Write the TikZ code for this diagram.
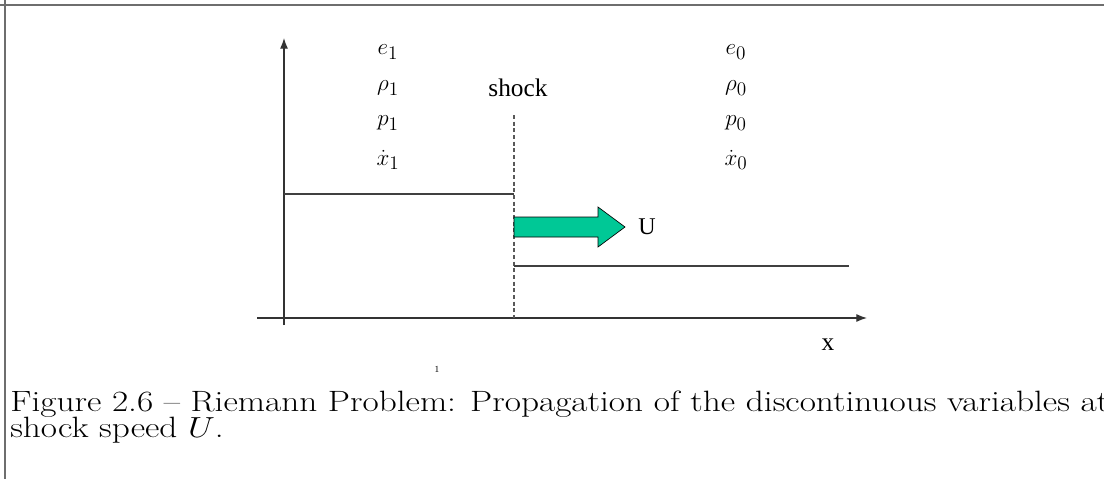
\documentclass[tikz,border=0pt]{standalone}
\usepackage{amsmath}
\usepackage{amssymb}
\usepackage{xcolor}
\usepackage{fontspec}
\usepackage{tikz}
\usetikzlibrary{arrows.meta,calc}

\newfontfamily\labelfont{Liberation Serif}
\definecolor{shockgreen}{RGB}{0,200,150}
\definecolor{framegray}{RGB}{110,110,110}

\tikzset{
  axisline/.style={draw=black!80,line width=0.9pt},
  levelline/.style={draw=black!75,line width=0.9pt},
  statelabel/.style={font=\fontsize{19}{22}\selectfont,inner sep=0pt},
  captext/.style={anchor=base west,inner sep=0pt},
}

\begin{document}
\begin{tikzpicture}[>=Latex,x=0.75pt,y=-0.75pt]
    \useasboundingbox (0,0) rectangle (1104,479);
    \fill[white] (0,0) rectangle (1104,479);
    % Rahmen des Ausschnitts (nur oben und links sichtbar)
    \draw[framegray,line width=1.5pt] (0,4.5) -- (1104,4.5);
    \draw[framegray,line width=1.5pt] (5,0) -- (5,479);

    % Achsen
    \coordinate (ybot) at (284,325);
    \coordinate (ytip) at (284,38);
    \coordinate (xbeg) at (257,318);
    \coordinate (xtip) at (867,318);
    \draw[axisline,-{Latex[length=8pt,width=6pt]}] (ybot) -- (ytip);
    \draw[axisline,-{Latex[length=8pt,width=6pt]}] (xbeg) -- (xtip);
    \node[font=\labelfont\fontsize{19}{21}\selectfont] (xlab) at (828,345) {x};
    \node[font=\labelfont\fontsize{7}{8}\selectfont] (tick) at (437,369) {1};

    % Zustaende links und rechts der Stossfront
    \node[statelabel] (e1) at (388,52) {$e_1$};
    \node[statelabel] (rho1) at (388,88) {$\rho_1$};
    \node[statelabel] (p1) at (388,123) {$p_1$};
    \node[statelabel] (v1) at (388,160) {$\dot{x}_1$};
    \node[statelabel] (e0) at (736,52) {$e_0$};
    \node[statelabel] (rho0) at (736,88) {$\rho_0$};
    \node[statelabel] (p0) at (736,123) {$p_0$};
    \node[statelabel] (v0) at (736,160) {$\dot{x}_0$};

    % Stossfront und Niveaus
    \node[font=\labelfont\fontsize{19}{22}\selectfont] (shock) at (518,88) {shock};
    \coordinate (stop) at (514,115);
    \coordinate (sbot) at (514,318);
    \draw[black!65,line width=0.8pt,dash pattern=on 3pt off 2pt] (stop) -- (sbot);
    \coordinate (high) at (284,194);
    \coordinate (highend) at (514,194);
    \coordinate (low) at (514,266);
    \coordinate (lowend) at (849,266);
    \draw[levelline] (high) -- (highend);
    \draw[levelline] (low) -- (lowend);

    % Ausbreitung mit U
    \filldraw[fill=shockgreen,draw=black,line width=0.5pt]
      (514,217) -- (598,217) -- (598,207) -- (625,227) -- (598,247)
      -- (598,237) -- (514,237) -- cycle;
    \node[font=\labelfont\fontsize{18}{20}\selectfont] (ulab) at (647,227) {U};

    % Bildunterschrift
    \node[captext] (cap1) at (10,411)
      {\scalebox{1.26}[1.05]{\fontsize{21}{24}\selectfont Figure 2.6 -- Riemann Problem: Propagation of the discontinuous variables at}};
    \node[captext] (cap2) at (10,437)
      {\scalebox{1.26}[1.05]{\fontsize{21}{24}\selectfont shock speed $U$.}};
\end{tikzpicture}
\end{document}
